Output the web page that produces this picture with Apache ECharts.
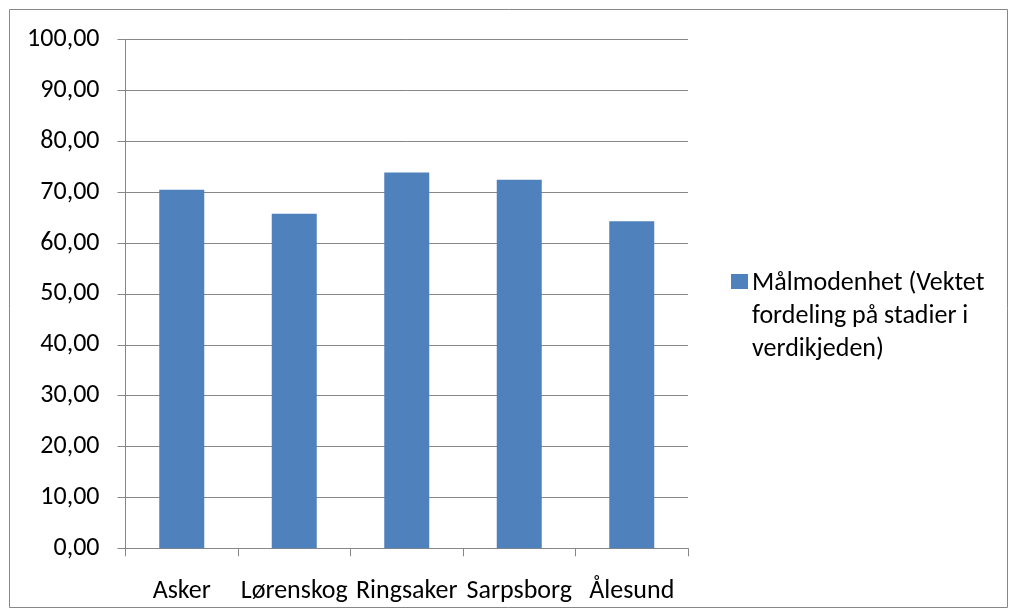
<!DOCTYPE html>
<html>
<head>
<meta charset="utf-8">
<style>
  html, body { margin: 0; padding: 0; background: #ffffff; }
  #chart { width: 1011px; height: 610px; }
</style>
<script src="https://cdn.jsdelivr.net/npm/echarts@6/dist/echarts.min.js"></script>
</head>
<body>
<div id="chart"></div>
<script>
// Kommuner og vektet målmodenhet
const categories = ['Asker', 'Lørenskog', 'Ringsaker', 'Sarpsborg', 'Ålesund'];
const values = [70.45, 65.73, 73.87, 72.42, 64.29];
const seriesName = 'Målmodenhet (Vektet fordeling på stadier i verdikjeden)';
const legendLines = ['Målmodenhet (Vektet', 'fordeling på stadier i', 'verdikjeden)'];

const FONT = 'Carlito, Calibri, "Liberation Sans", sans-serif';
const GRID_COLOR = '#878787';
const BAR_COLOR = '#4F81BD';

const chart = echarts.init(document.getElementById('chart'), null, { renderer: 'canvas' });

chart.setOption({
  animation: false,
  backgroundColor: '#ffffff',
  grid: { left: 125.5, right: 323, top: 39.5, bottom: 61.7, containLabel: false },
  xAxis: {
    type: 'category',
    data: categories,
    boundaryGap: true,
    axisLine: { show: true, lineStyle: { color: GRID_COLOR, width: 1 } },
    axisTick: { show: true, alignWithLabel: false, length: 8, lineStyle: { color: GRID_COLOR } },
    axisLabel: { color: '#000', fontFamily: FONT, fontSize: 26, margin: 30, interval: 0 },
    splitLine: { show: false }
  },
  yAxis: {
    type: 'value',
    min: 0,
    max: 100,
    interval: 10,
    axisLine: { show: true, lineStyle: { color: GRID_COLOR, width: 1 } },
    axisTick: { show: true, inside: false, length: 8, lineStyle: { color: GRID_COLOR } },
    axisLabel: {
      color: '#000', fontFamily: FONT, fontSize: 26, margin: 26,
      formatter: v => v.toFixed(2).replace('.', ',')
    },
    splitLine: { show: true, lineStyle: { color: GRID_COLOR, width: 1 } }
  },
  series: [{
    name: seriesName,
    type: 'bar',
    data: values,
    barWidth: '40%',
    itemStyle: { color: BAR_COLOR }
  }],
  graphic: [
    {
      type: 'rect',
      shape: { x: 9.5, y: 9.5, width: 998, height: 598 },
      style: { fill: 'none', stroke: GRID_COLOR, lineWidth: 1 },
      silent: true
    },
    {
      type: 'group',
      left: 731,
      top: 267,
      children: [
        { type: 'rect', shape: { x: 0, y: 7, width: 17, height: 15 }, style: { fill: BAR_COLOR } },
        {
          type: 'text',
          x: 21,
          y: 0,
          style: {
            text: legendLines.join('\n'),
            fill: '#000',
            font: '26px ' + FONT,
            lineHeight: 33,
            verticalAlign: 'top'
          }
        }
      ]
    }
  ]
});
</script>
</body>
</html>
